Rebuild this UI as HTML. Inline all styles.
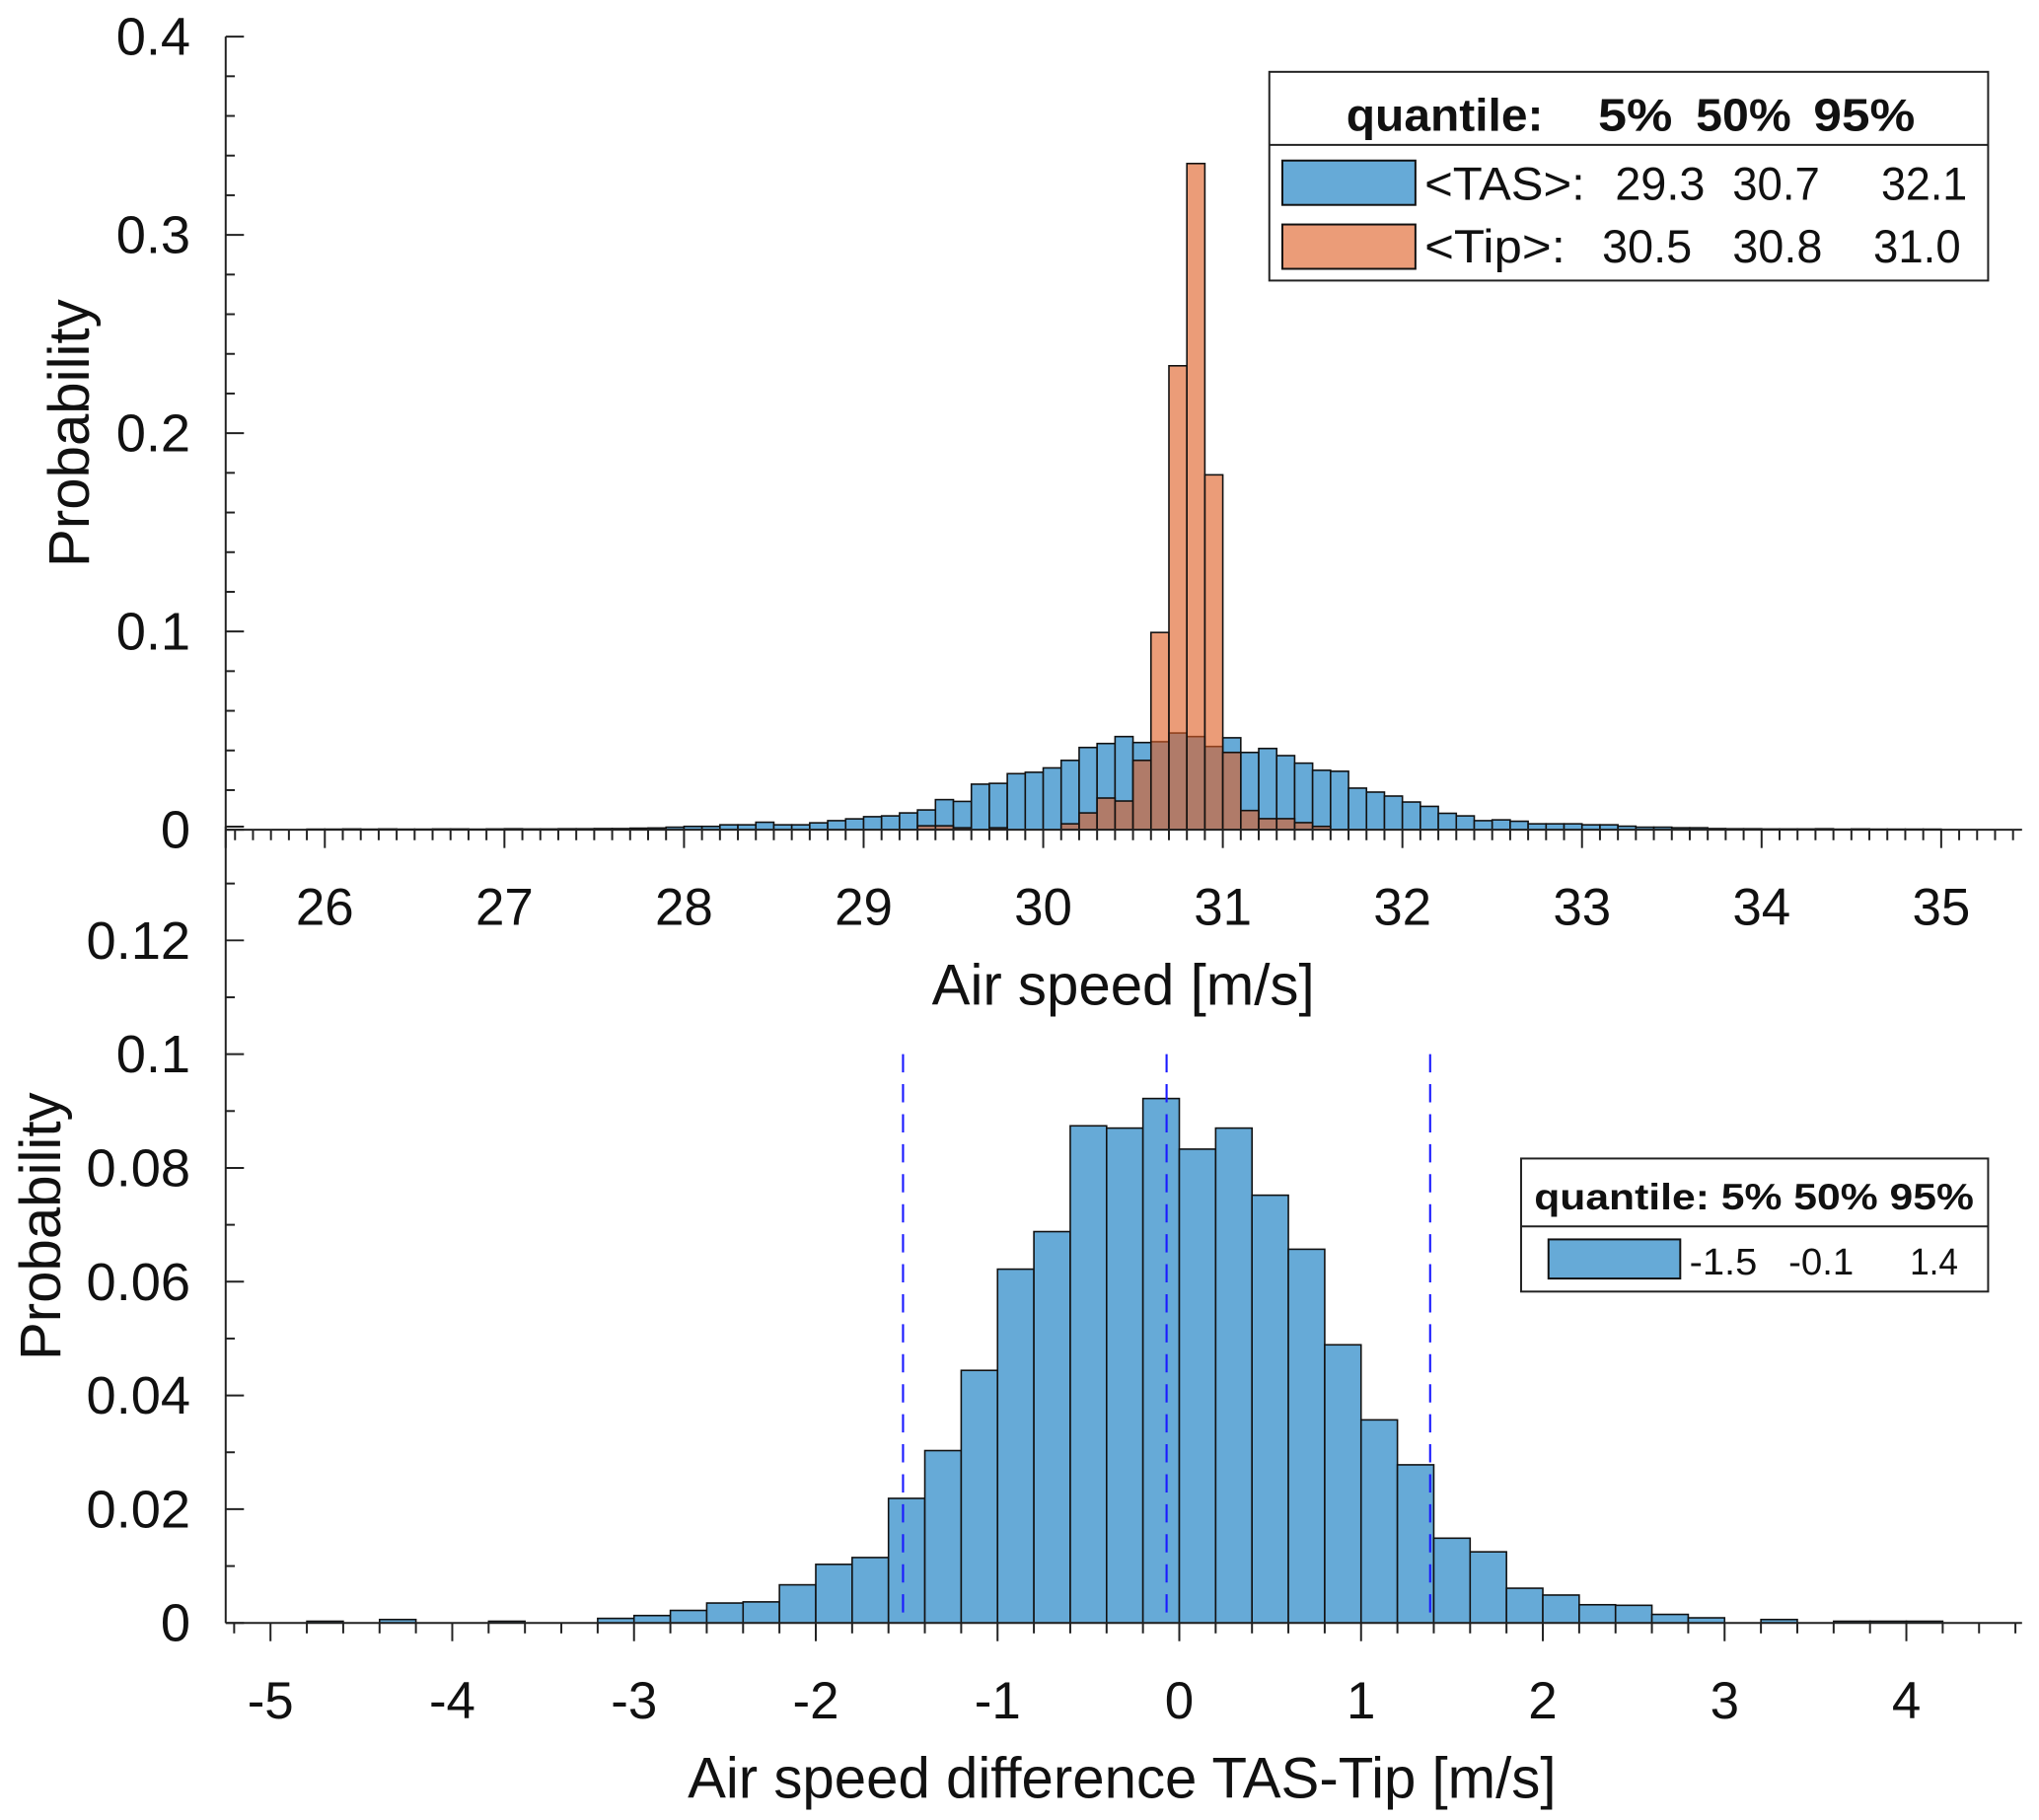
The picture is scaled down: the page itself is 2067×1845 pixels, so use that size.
<!DOCTYPE html>
<html><head><meta charset="utf-8"><style>
html,body{margin:0;padding:0;background:#fff}
svg{display:block}
text{font-family:"Liberation Sans",Arial,sans-serif;fill:#111}
</style></head><body>
<svg id="chart" xmlns="http://www.w3.org/2000/svg" width="2067" height="1845" viewBox="0 0 1563 1395">
<g id="topG"></g>
<g id="botG"></g>
<g id="lg1">
  <rect x="973" y="55" width="551" height="160" fill="#fff" stroke="#222" stroke-width="1.5"/>
  <line x1="973" y1="111" x2="1524" y2="111" stroke="#222" stroke-width="1.5"/>
  <g font-size="35" font-weight="bold">
    <text x="1032" y="100" textLength="151" lengthAdjust="spacingAndGlyphs">quantile:</text>
    <text x="1225" y="100" textLength="57" lengthAdjust="spacingAndGlyphs">5%</text>
    <text x="1300" y="100" textLength="73" lengthAdjust="spacingAndGlyphs">50%</text>
    <text x="1390" y="100" textLength="78" lengthAdjust="spacingAndGlyphs">95%</text>
  </g>
  <rect x="983" y="123" width="102" height="34" fill="#66aad7" stroke="#111" stroke-width="1.5"/>
  <rect x="983" y="172" width="102" height="34" fill="#eb9c78" stroke="#111" stroke-width="1.5"/>
  <g font-size="36">
    <text x="1092" y="153" textLength="123" lengthAdjust="spacingAndGlyphs">&lt;TAS&gt;:</text>
    <text x="1238" y="153" textLength="69" lengthAdjust="spacingAndGlyphs">29.3</text>
    <text x="1328" y="153" textLength="67" lengthAdjust="spacingAndGlyphs">30.7</text>
    <text x="1442" y="153" textLength="66" lengthAdjust="spacingAndGlyphs">32.1</text>
  </g>
  <g font-size="36">
    <text x="1092" y="201" textLength="108" lengthAdjust="spacingAndGlyphs">&lt;Tip&gt;:</text>
    <text x="1228" y="201" textLength="69" lengthAdjust="spacingAndGlyphs">30.5</text>
    <text x="1328" y="201" textLength="69" lengthAdjust="spacingAndGlyphs">30.8</text>
    <text x="1436" y="201" textLength="67" lengthAdjust="spacingAndGlyphs">31.0</text>
  </g>
</g>
<g id="lg2">
  <rect x="1166" y="888" width="358" height="102" fill="#fff" stroke="#222" stroke-width="1.5"/>
  <line x1="1166" y1="940" x2="1524" y2="940" stroke="#222" stroke-width="1.5"/>
  <text x="1176" y="927" font-size="28" font-weight="bold" textLength="337" lengthAdjust="spacingAndGlyphs">quantile: 5%  50%  95%</text>
  <rect x="1187" y="950" width="101" height="30" fill="#66aad7" stroke="#111" stroke-width="1.5"/>
  <g font-size="29">
    <text x="1295" y="977" textLength="52" lengthAdjust="spacingAndGlyphs">-1.5</text>
    <text x="1371" y="977" textLength="50" lengthAdjust="spacingAndGlyphs">-0.1</text>
    <text x="1464" y="977" textLength="37" lengthAdjust="spacingAndGlyphs">1.4</text>
  </g>
</g>
</svg>
<script>
// ---- top chart data (bin width 0.1 m/s, first bin starts 25.9) ----
const tasStart = 25.9;
const tasValues = [0.0003,0.0003,0.0004,0.0003,0.0004,0.0003,0.0003,0.0004,0.0004,0.0003,
0.0004,0.0005,0.0004,0.0004,0.0005,0.0005,0.0006,0.0006,0.0008,0.0009,
0.0013,0.0017,0.0017,0.0025,0.0025,0.0038,0.0025,0.0025,0.0035,0.0046,
0.0055,0.0066,0.007,0.0085,0.010,0.0152,0.0143,0.023,0.0234,0.0283,
0.029,0.0312,0.035,0.0415,0.0435,0.047,0.044,0.0444,0.0488,0.047,
0.042,0.0464,0.039,0.041,0.0374,0.0336,0.030,0.0295,0.021,0.019,
0.017,0.014,0.0118,0.0083,0.007,0.0046,0.005,0.0043,0.003,0.003,
0.003,0.0025,0.0025,0.0018,0.0013,0.0013,0.001,0.001,0.0006,0.0005,
0.0005,0.0004,0.0004,0.0004,0.0005,0.0003,0.0004,0.0003,0.0003,0.0003,0.0003];
const tipStart = 29.3;
const tipValues = [0.002,0.002,0.001,0,0.001,0,0,0,0.003,0.0085,0.016,0.0145,0.035,0.0995,0.234,0.336,0.179,0.039,0.0097,0.0056,0.0056,0.0036,0.0017];
const topXTicks = [26,27,28,29,30,31,32,33,34,35];
const topYTicks = [0,0.1,0.2,0.3,0.4];
const topYLabels = ["0","0.1","0.2","0.3","0.4"];
// ---- bottom chart data (bin width 0.2 m/s, first bin starts -4.8) ----
const diffStart = -4.8;
const diffValues = [0.0003,0,0.0006,0,0,0.0003,0,0,0.0008,0.0013,0.0022,0.0035,0.0037,0.0067,0.0103,0.0115,0.0219,0.0303,0.0444,0.0622,0.0688,0.0874,0.087,0.0922,0.0833,0.087,0.0752,0.0657,0.0489,0.0357,0.0278,0.0149,0.0125,0.0061,0.0049,0.0032,0.0031,0.0015,0.0009,0,0.0006,0,0.0003,0.0003,0.0003];
const diffQuantiles = [-1.52,-0.07,1.38];
const botXTicks = [-5,-4,-3,-2,-1,0,1,2,3,4];
const botYTicks = [0,0.02,0.04,0.06,0.08,0.1,0.12];
const botYLabels = ["0","0.02","0.04","0.06","0.08","0.1","0.12"];

const NS="http://www.w3.org/2000/svg";
function mk(parent,tag,attrs){const e=document.createElementNS(NS,tag);for(const k in attrs)e.setAttribute(k,attrs[k]);parent.appendChild(e);return e;}
const L=173,R=1550;
const tx=v=>249+(v-26)*137.67;
const ty=v=>636-v*1520;
const bx=v=>904+v*139.33;
const by=v=>1244-v*4360;

const topG=document.getElementById('topG');
tasValues.forEach((v,i)=>{if(v<=0)return;const x0=tx(tasStart+i*0.1),x1=tx(tasStart+(i+1)*0.1);
 const r=mk(topG,'rect',{x:x0,y:ty(v),width:x1-x0,height:ty(0)-ty(v),fill:'#66aad7',stroke:'#111','stroke-width':1.2});
 
 });
tipValues.forEach((v,i)=>{if(v<=0)return;const x0=tx(tipStart+i*0.1),x1=tx(tipStart+(i+1)*0.1);
 const r=mk(topG,'rect',{x:x0,y:ty(v),width:x1-x0,height:ty(0)-ty(v),fill:'rgb(222,94,35)','fill-opacity':0.614,stroke:'#111','stroke-width':1.2});
 
 });
const ta=mk(topG,'g',{stroke:'#222','stroke-width':1.5});


mk(ta,'line',{x1:L,y1:ty(0),x2:R,y2:ty(0)});
mk(ta,'line',{x1:L,y1:ty(0.4),x2:L,y2:650});
for(let k=0;k<=20;k++){const y=ty(k*0.02);mk(ta,'line',{x1:L,y1:y,x2:L+(k%5==0?14:7),y2:y});}
for(let k=-5;k<=94;k++){const v=26+k*0.1;const x=tx(v);if(x<L||x>R)continue;mk(ta,'line',{x1:x,y1:ty(0),x2:x,y2:ty(0)+(k%10==0?14:8)});}
topXTicks.forEach(v=>{const t=mk(topG,'text',{x:tx(v),y:709,'font-size':40,'text-anchor':'middle'});t.textContent=v;
 
 });
topYTicks.forEach((v,i)=>{const t=mk(topG,'text',{x:146,y:ty(v)+14,'font-size':41,'text-anchor':'end'});t.textContent=topYLabels[i];
 
 });
let t1=mk(topG,'text',{x:861,y:770,'font-size':44,'text-anchor':'middle'});t1.textContent='Air speed [m/s]';


let t2=mk(topG,'text',{x:0,y:0,'font-size':44,'text-anchor':'middle',transform:'translate(68,332) rotate(-90)'});t2.textContent='Probability';



const botG=document.getElementById('botG');
diffValues.forEach((v,i)=>{if(v<=0)return;const x0=bx(diffStart+i*0.2),x1=bx(diffStart+(i+1)*0.2);
 const r=mk(botG,'rect',{x:x0,y:by(v),width:x1-x0,height:by(0)-by(v),fill:'#66aad7',stroke:'#111','stroke-width':1.2});
 
 });
diffQuantiles.forEach(q=>{const l=mk(botG,'line',{x1:bx(q),x2:bx(q),y1:by(0.1),y2:by(0),stroke:'#1a1aff','stroke-width':1.6,'stroke-dasharray':'14,9'});
 
 });
const ba=mk(botG,'g',{stroke:'#222','stroke-width':1.5});


mk(ba,'line',{x1:L,y1:by(0),x2:R,y2:by(0)});
mk(ba,'line',{x1:L,y1:by(0.14),x2:L,y2:by(0)});
for(let k=0;k<=14;k++){const y=by(k*0.01);mk(ba,'line',{x1:L,y1:y,x2:L+(k%2==0?14:7),y2:y});}
for(let k=-26;k<=23;k++){const v=k*0.2;const x=bx(v);if(x<L||x>R)continue;mk(ba,'line',{x1:x,y1:by(0),x2:x,y2:by(0)+(k%5==0?14:8)});}
botXTicks.forEach(v=>{const t=mk(botG,'text',{x:bx(v),y:1317,'font-size':40,'text-anchor':'middle'});t.textContent=v;
 
 });
botYTicks.forEach((v,i)=>{const t=mk(botG,'text',{x:146,y:by(v)+14,'font-size':41,'text-anchor':'end'});t.textContent=botYLabels[i];
 
 });
let t3=mk(botG,'text',{x:860,y:1378,'font-size':44,'text-anchor':'middle'});t3.textContent='Air speed difference TAS-Tip [m/s]';


let t4=mk(botG,'text',{x:0,y:0,'font-size':44,'text-anchor':'middle',transform:'translate(46,940) rotate(-90)'});t4.textContent='Probability';


</script>
</body></html>
